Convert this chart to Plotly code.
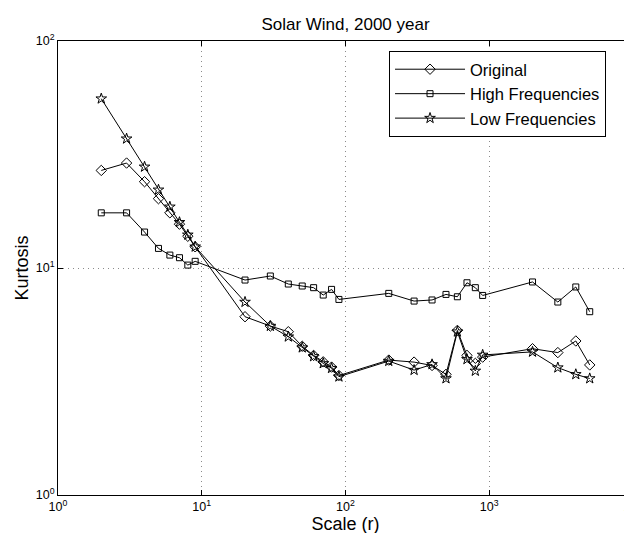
import plotly.graph_objects as go

# ---- data ----
scales = [2, 3, 4, 5, 6, 7, 8, 9,
          20, 30, 40, 50, 60, 70, 80, 90,
          200, 300, 400, 500, 600, 700, 800, 900,
          2000, 3000, 4000, 5000]

original = [26.9, 29.0, 24.0, 20.2, 17.5, 15.6, 13.8, 12.4,
            6.10, 5.55, 5.24, 4.52, 4.12, 3.86, 3.66, 3.36,
            3.93, 3.85, 3.72, 3.40, 5.31, 4.12, 3.80, 4.05,
            4.41, 4.24, 4.77, 3.74]

high_freq = [17.5, 17.5, 14.4, 12.2, 11.4, 11.1, 10.3, 10.7,
             8.85, 9.22, 8.50, 8.33, 8.19, 7.60, 8.05, 7.27,
             7.73, 7.15, 7.23, 7.65, 7.47, 8.61, 8.19, 7.57,
             8.68, 7.08, 8.25, 6.42]

low_freq = [55.7, 37.1, 27.9, 22.1, 18.6, 15.9, 14.0, 12.4,
            7.08, 5.55, 4.98, 4.46, 4.08, 3.80, 3.62, 3.32,
            3.89, 3.55, 3.76, 3.26, 5.24, 3.96, 3.52, 4.14,
            4.27, 3.64, 3.40, 3.26]

series_names = ["Original", "High Frequencies", "Low Frequencies"]

x_tickvals = [1, 10, 100, 1000, 10000]
x_ticktext = ["10<sup>0</sup>", "10<sup>1</sup>", "10<sup>2</sup>", "10<sup>3</sup>", "10<sup>4</sup>"]
y_tickvals = [1, 10, 100]
y_ticktext = ["10<sup>0</sup>", "10<sup>1</sup>", "10<sup>2</sup>"]

FONT = "Liberation Sans, Arial, Helvetica, sans-serif"

fig = go.Figure()
styles = [("diamond-open", 8), ("square-open", 6), ("star-open", 8)]
for name, ys, (sym, sz) in zip(series_names, [original, high_freq, low_freq], styles):
    fig.add_trace(go.Scatter(
        x=scales, y=ys, name=name, mode="lines+markers",
        line=dict(color="black", width=1),
        marker=dict(symbol=sym, size=sz, color="black",
                    line=dict(color="black", width=1)),
    ))

axis_common = dict(
    type="log", showline=True, linecolor="black", linewidth=1, mirror="ticks",
    ticks="inside", ticklen=5, tickcolor="black",
    showgrid=True, gridcolor="#8a8a8a", griddash="1px,4px", gridwidth=1,
    zeroline=False, tickfont=dict(family=FONT, size=12.5, color="black"),
    ticklabeloverflow="allow",
)

fig.update_xaxes(range=[0, 4], tickvals=x_tickvals, ticktext=x_ticktext,
                 title=dict(text="Scale (r)", font=dict(family=FONT, size=18, color="black"), standoff=2),
                 **axis_common)
fig.update_yaxes(range=[0, 2], tickvals=y_tickvals, ticktext=y_ticktext,
                 title=dict(text="Kurtosis", font=dict(family=FONT, size=18, color="black"), standoff=2),
                 **axis_common)

fig.update_layout(
    width=632, height=533,
    margin=dict(l=50, r=7, t=33, b=46, autoexpand=False),
    paper_bgcolor="white", plot_bgcolor="white",
    font=dict(family=FONT, color="black"),
    title=dict(text="Solar Wind, 2000 year", x=0.5, xref="paper", xanchor="center",
               y=1 - 16 / 533, yref="container", yanchor="middle",
               font=dict(family=FONT, size=17, color="black")),
    legend=dict(x=0.5757, y=0.978, xanchor="left", yanchor="top",
                bgcolor="white", bordercolor="black", borderwidth=1,
                font=dict(family=FONT, size=16.5, color="black"),
                itemwidth=70, tracegroupgap=0),
    showlegend=True,
)

fig.write_html("out.html")
